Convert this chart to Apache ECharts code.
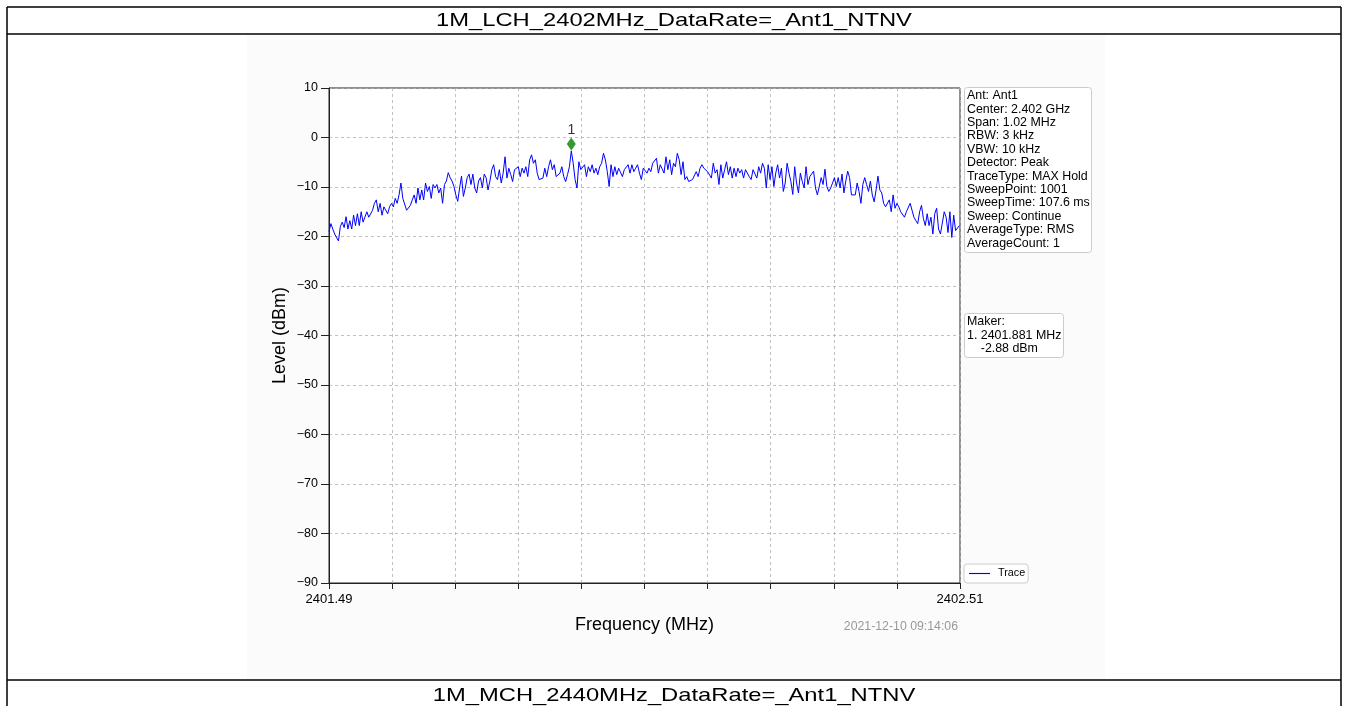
<!DOCTYPE html>
<html>
<head>
<meta charset="utf-8">
<script src="https://cdn.jsdelivr.net/npm/echarts@6/dist/echarts.min.js"></script>
<style>
html,body{margin:0;padding:0;background:#fff;}
#c{width:1348px;height:706px;}
</style>
</head>
<body>
<div id="c"></div>
<script>
// ---- data ----
const tableTitleTop = '1M_LCH_2402MHz_DataRate=_Ant1_NTNV';
const tableTitleNext = '1M_MCH_2440MHz_DataRate=_Ant1_NTNV';
const freqEndLabels = ['2401.49', '2402.51'];   // x axis end labels (MHz)
const sweepPoints = 1001;                        // sweep points across the span
const sweepStep = 3;                              // every 3rd sweep point is listed below
const yTicks = [10, 0, -10, -20, -30, -40, -50, -60, -70, -80, -90];
// trace level (dBm) at sweep points 0,3,6,...,999
const levels = [
  -19.0,-17.4,-18.5,-19.5,-19.2,-20.9,-18.0,-17.1,-18.2,-16.0,
  -18.5,-16.8,-18.5,-15.7,-17.8,-15.4,-17.8,-15.0,-17.1,-16.8,
  -15.0,-16.1,-16.1,-14.7,-13.3,-12.6,-15.0,-13.3,-15.7,-14.0,
  -14.3,-15.4,-14.0,-13.3,-14.0,-12.3,-13.3,-11.6,-9.2,-12.3,
  -12.6,-14.7,-15.0,-13.7,-12.6,-11.6,-13.3,-10.2,-12.6,-10.6,
  -12.6,-9.2,-10.9,-9.9,-12.3,-9.5,-10.2,-9.5,-11.2,-10.2,
  -13.3,-9.5,-8.8,-7.1,-8.1,-8.8,-9.9,-11.6,-12.9,-10.2,
  -7.8,-11.9,-10.2,-8.1,-7.4,-9.5,-7.4,-10.2,-11.2,-8.8,
  -8.1,-10.2,-7.4,-8.1,-10.6,-8.8,
  -6.5,-5.5,-7.9,-8.5,-6.5,-9.2,-7.2,-3.9,-8.2,-6.2,
  -7.5,-8.9,-6.5,-6.9,-5.9,-7.9,-6.2,-7.2,-5.9,-7.9,
  -4.5,-3.5,-5.2,-4.5,-7.2,-8.5,-8.9,-8.2,-6.2,-7.9,
  -5.9,-4.5,-6.5,-5.5,-7.9,-8.2,-7.2,-5.9,-7.9,-8.9,
  -7.5,-5.9,-2.7,
  -5.2,-8.5,-10.2,-4.9,-6.5,-6.9,-5.5,
  -7.9,-5.9,-6.9,-5.5,-7.2,-6.2,-7.5,-5.9,-5.2,-3.2,
  -4.5,-6.9,-9.9,-5.5,-7.9,-5.9,-7.5,-6.2,-5.9,-7.9,
  -6.5,-6.5,-5.5,-7.2,-5.5,-6.9,-6.2,-5.5,-7.2,-8.5,
  -6.2,-5.9,-7.2,
  -6.2,-6.9,-5.2,-5.2,-4.2,-7.2,-5.5,-5.2,-7.2,-3.9,
  -6.5,-4.5,-7.5,-5.2,-5.9,-3.2,-4.5,-7.5,-4.9,-8.5,
  -7.9,-8.9,-8.9,-8.5,-8.2,-6.9,-7.9,-6.2,-5.5,-6.2,
  -5.9,-6.9,-6.5,-8.2,-5.2,-7.2,-6.5,-9.5,-5.5,-8.2,
  -6.5,-4.9,-7.5,-5.9,-8.2,-6.2,-7.9,-6.2,-7.2,-6.5,
  -8.2,-6.5,-6.9,-7.9,-8.5,-6.5,-6.2,-8.2,-5.9,-7.2,
  -5.2,-6.2,-10.2,-5.5,-8.5,-5.9,-9.9,-7.2,-5.5,-8.2,
  -6.2,-10.9,-9.2,-5.2,-7.2,-8.9,-11.5,-5.9,-9.2,-11.2,
  -7.2,-8.9,-10.2,-5.9,-9.5,-7.9,
  -8.1,-6.8,-10.2,-11.6,-11.6,-8.1,-9.5,-6.4,-9.9,-10.9,
  -10.2,-9.2,-8.1,-9.9,-8.1,-10.2,-7.4,-11.2,-8.8,-6.8,
  -8.1,-11.6,-11.9,-11.6,-9.2,-10.9,-13.3,-9.5,-8.1,-9.5,
  -10.9,-8.8,-11.6,-13.0,-10.6,-7.8,-10.6,-11.2,-13.3,-14.0,
  -13.7,-12.6,-15.0,-11.6,-14.3,-13.3,-14.0,-15.0,-14.7,-16.1,
  -15.0,-14.7,-13.3,-13.3,-16.1,-16.8,-17.4,-15.0,-13.7,-16.4,
  -17.8,-15.4,-17.8,-16.1,-19.5,-15.4,-14.3,-18.5,-19.5,-19.9,
  -15.0,-16.1,-19.2,-15.0,-20.2,-15.7,-18.8,-18.8,-17.8
];
const markerPoint = [384, -1.3];   // sweep point index of marker 1, drawn level
const markerName = '1';
const infoLines = ['Ant: Ant1','Center: 2.402 GHz','Span: 1.02 MHz','RBW: 3 kHz','VBW: 10 kHz','Detector: Peak','TraceType: MAX Hold','SweepPoint: 1001','SweepTime: 107.6 ms','Sweep: Continue','AverageType: RMS','AverageCount: 1'];
const makerLines = ['Maker:','1. 2401.881 MHz','    -2.88 dBm'];
const timestamp = '2021-12-10 09:14:06';
const xName = 'Frequency (MHz)';
const yName = 'Level (dBm)';

// ---- chart ----
const FONT = '"Liberation Sans", Arial, sans-serif';
const traceData = levels.map((v, i) => [i * sweepStep, v]);
const lastIdx = sweepPoints - 1;

const chart = echarts.init(document.getElementById('c'), null, {renderer: 'canvas'});
chart.setOption({
  animation: false,
  backgroundColor: '#fff',
  textStyle: {fontFamily: FONT},
  graphic: [
    {type: 'rect', shape: {x: 247, y: 35, width: 858, height: 645}, style: {fill: '#fbfbfb'}, z: -10},
    {type: 'line', shape: {x1: 7, y1: 7, x2: 1341, y2: 7}, style: {stroke: '#000', lineWidth: 1.5}},
    {type: 'line', shape: {x1: 7, y1: 34, x2: 1341, y2: 34}, style: {stroke: '#000', lineWidth: 1.5}},
    {type: 'line', shape: {x1: 7, y1: 680, x2: 1341, y2: 680}, style: {stroke: '#000', lineWidth: 1.5}},
    {type: 'line', shape: {x1: 7, y1: 7, x2: 7, y2: 706}, style: {stroke: '#000', lineWidth: 1.5}},
    {type: 'line', shape: {x1: 1341, y1: 7, x2: 1341, y2: 706}, style: {stroke: '#000', lineWidth: 1.5}},
    {type: 'text', x: 674, y: 21, scaleX: 1.25, style: {text: tableTitleTop, font: '19px ' + FONT, fill: '#000', textAlign: 'center', textVerticalAlign: 'middle'}},
    {type: 'text', x: 674, y: 696, scaleX: 1.25, style: {text: tableTitleNext, font: '19px ' + FONT, fill: '#000', textAlign: 'center', textVerticalAlign: 'middle'}},
    {type: 'text', x: 958, y: 627, style: {text: timestamp, font: '12.3px ' + FONT, fill: '#999', textAlign: 'right', textVerticalAlign: 'middle'}}
  ],
  title: [
    {
      text: infoLines.join('\n'), left: 964, top: 87, padding: [2, 2, 3, 3],
      backgroundColor: '#fff', borderColor: '#ccc', borderWidth: 1, borderRadius: 3,
      textStyle: {fontSize: 12.4, fontWeight: 'normal', color: '#000', lineHeight: 13.4, fontFamily: FONT}
    },
    {
      text: makerLines.join('\n'), left: 964, top: 313, padding: [2, 2, 3, 3],
      backgroundColor: '#fff', borderColor: '#ccc', borderWidth: 1, borderRadius: 3,
      textStyle: {fontSize: 12.4, fontWeight: 'normal', color: '#000', lineHeight: 13.4, fontFamily: FONT}
    }
  ],
  legend: {
    left: 964, top: 564, orient: 'vertical', padding: [4, 3, 4, 5],
    backgroundColor: '#fff', borderColor: '#ccc', borderWidth: 1, borderRadius: 3,
    itemWidth: 21, itemHeight: 10, itemGap: 4,
    data: [{name: 'Trace', icon: 'path://M0,4.4 L22,4.4 L22,5.6 L0,5.6 Z', itemStyle: {color: '#0000ff', borderWidth: 0}}],
    textStyle: {fontSize: 10.8, color: '#000', fontFamily: FONT, padding: [0, 0, 0, 3]}
  },
  grid: {
    left: 329, top: 88, right: 388, bottom: 123,
    show: true, backgroundColor: '#fff', borderColor: '#222', borderWidth: 1
  },
  xAxis: {
    type: 'value', min: 0, max: lastIdx, interval: 100,
    name: xName, nameLocation: 'middle', nameGap: 33,
    nameTextStyle: {fontSize: 18, color: '#000', fontFamily: FONT},
    axisLine: {show: true, onZero: false, lineStyle: {color: '#222', width: 1}},
    axisTick: {show: true, length: 6, lineStyle: {color: '#222'}},
    axisLabel: {
      fontSize: 13, color: '#000', margin: 10, showMinLabel: true, showMaxLabel: true,
      formatter: v => v === 0 ? freqEndLabels[0] : (v === lastIdx ? freqEndLabels[1] : '')
    },
    splitLine: {show: true, lineStyle: {color: '#b0b0b0', type: [3, 3], width: 0.8}}
  },
  yAxis: {
    type: 'value', min: yTicks[yTicks.length - 1], max: yTicks[0], interval: 10,
    name: yName, nameLocation: 'middle', nameGap: 40,
    nameTextStyle: {fontSize: 18, color: '#000', fontFamily: FONT},
    axisLine: {show: true, lineStyle: {color: '#222', width: 1}},
    axisTick: {show: true, length: 8, lineStyle: {color: '#222'}},
    axisLabel: {fontSize: 12.5, color: '#000', margin: 11, formatter: v => (v < 0 ? '\u2212' + Math.abs(v) : String(v))},
    splitLine: {show: true, lineStyle: {color: '#b0b0b0', type: [3, 3], width: 0.8}}
  },
  series: [
    {
      name: 'Trace', type: 'line', data: traceData, showSymbol: false, symbol: 'none',
      lineStyle: {color: '#0000ff', width: 1}, itemStyle: {color: '#0000ff'},
      z: 3
    },
    {
      name: 'marker', type: 'scatter', data: [markerPoint], symbol: 'diamond', symbolSize: [9, 13],
      itemStyle: {color: '#008000'}, z: 4,
      label: {show: true, position: 'top', distance: 0, formatter: markerName, fontSize: 14, color: '#000', fontFamily: FONT}
    }
  ]
});
</script>
</body>
</html>
